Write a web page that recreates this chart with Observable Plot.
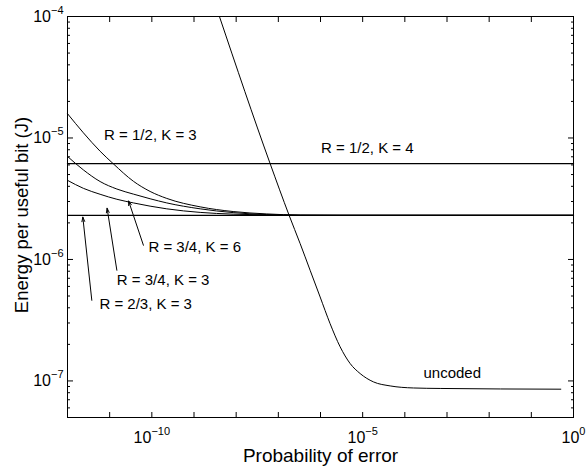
<!DOCTYPE html>
<html><head><meta charset="utf-8">
<script src="https://cdn.jsdelivr.net/npm/d3@7"></script>
<script src="https://cdn.jsdelivr.net/npm/@observablehq/plot@0.6"></script>
<style>body{margin:0;background:#fff}</style>
</head><body><div id="chart"></div>
<script>
// ---- data ----
const floorValue = 2.31e-6;      // R = 2/3, K = 3 (flat)
const k4Value = 6.14e-6;         // R = 1/2, K = 4 (flat)
const flatX = [1e-12, 1];

const r12k3X = [1e-12, 2.38e-12, 5.93e-12, 1.24e-11, 3.66e-11, 9.1e-11, 2.26e-10, 1.40e-9, 8.47e-9, 5.33e-8, 3.29e-7, 2.92e-6, 1];
const r12k3Y = [1.585e-5, 1.103e-5, 7.78e-6, 6.10e-6, 4.40e-6, 3.63e-6, 3.18e-6, 2.71e-6, 2.48e-6, 2.37e-6, 2.32e-6, 2.31e-6, 2.31e-6];

const r34k6X = [1e-12, 2.38e-12, 5.93e-12, 1.48e-11, 3.66e-11, 9.1e-11, 2.26e-10, 1.40e-9, 8.47e-9, 5.33e-8, 3.29e-7, 1];
const r34k6Y = [7.05e-6, 5.46e-6, 4.38e-6, 3.80e-6, 3.45e-6, 3.16e-6, 2.92e-6, 2.61e-6, 2.43e-6, 2.34e-6, 2.31e-6, 2.31e-6];

const r34k3X = [1e-12, 2.38e-12, 5.93e-12, 1.48e-11, 3.66e-11, 2.26e-10, 1.40e-9, 8.47e-9, 5.33e-8, 3.29e-7, 1];
const r34k3Y = [4.48e-6, 3.85e-6, 3.44e-6, 3.13e-6, 2.92e-6, 2.61e-6, 2.44e-6, 2.36e-6, 2.33e-6, 2.31e-6, 2.31e-6];

const uncodedX = [4.01e-9, 6.40e-8, 1.80e-7, 3.29e-7, 5.67e-7, 9.8e-7, 1.69e-6, 2.92e-6, 5.05e-6, 8.71e-6, 1.80e-5, 4.49e-5, 1.60e-4, 6.89e-4, 0.50];
const uncodedY = [1e-4, 6.14e-6, 2.31e-6, 1.35e-6, 8.15e-7, 4.91e-7, 2.96e-7, 1.91e-7, 1.39e-7, 1.15e-7, 9.82e-8, 9.10e-8, 8.75e-8, 8.67e-8, 8.55e-8];

const labelText = ["R = 1/2, K = 3", "R = 1/2, K = 4", "R = 3/4, K = 6", "R = 3/4, K = 3", "R = 2/3, K = 3", "uncoded"];
const labelX = [7.38e-12, 1.03e-6, 8.3e-11, 1.48e-11, 5.71e-12, 2.77e-4];
const labelY = [1.05e-5, 8.17e-6, 1.26e-6, 6.73e-7, 4.28e-7, 1.15e-7];

// arrows: tail (near label) -> tip (at curve)
const arrowX1 = [3.77e-12, 1.48e-11, 6.31e-11];
const arrowY1 = [4.61e-7, 8.15e-7, 1.31e-6];
const arrowX2 = [2.31e-12, 8.69e-12, 2.81e-11];
const arrowY2 = [2.23e-6, 2.64e-6, 3.03e-6];

const xLabelTicks = [1e-10, 1e-5, 1];
const xMinorTicks = d3.range(-12, 1).map(e => Math.pow(10, e));
const yLabelTicks = [1e-4, 1e-5, 1e-6, 1e-7];
const yMinorTicks = [];
for (let e = -8; e <= -5; e++) for (let m = 2; m <= 9; m++) { const v = m * Math.pow(10, e); if (v >= 5e-8 && v <= 1e-4) yMinorTicks.push(+v.toPrecision(3)); }

const xLabel = "Probability of error";
const yLabel = "Energy per useful bit (J)";

// ---- build tables ----
const toPts = (xs, ys) => xs.map((x, i) => ({x, y: ys[i]}));
const curves = [toPts(r12k3X, r12k3Y), toPts(r34k6X, r34k6Y), toPts(r34k3X, r34k3Y)];
const flats = [toPts(flatX, [floorValue, floorValue]), toPts(flatX, [k4Value, k4Value])];
const uncoded = toPts(uncodedX, uncodedY);
const labels = labelText.map((t, i) => ({t, x: labelX[i], y: labelY[i]}));
const arrows = arrowX1.map((x1, i) => ({x1, y1: arrowY1[i], x2: arrowX2[i], y2: arrowY2[i]}));
const sup = d => "10^" + String(Math.round(Math.log10(d))).replace("-", "\u2212");

const chart = Plot.plot({
  width: 586, height: 473,
  marginLeft: 67, marginRight: 13, marginTop: 16, marginBottom: 56,
  style: {fontFamily: "'Liberation Sans', Arial, Helvetica, sans-serif", fontSize: "15px", background: "white", overflow: "visible", color: "black"},
  x: {type: "log", domain: [1e-12, 1], label: null},
  y: {type: "log", domain: [5e-8, 1e-4], label: null},
  marks: [
    ...curves.map(c => Plot.line(c, {x: "x", y: "y", stroke: "black", strokeWidth: 1, curve: "monotone-x"})),
    ...flats.map(c => Plot.line(c, {x: "x", y: "y", stroke: "black", strokeWidth: 1.3})),
    Plot.line(uncoded, {x: "x", y: "y", stroke: "black", strokeWidth: 1, curve: "monotone-x", clip: true}),
    Plot.arrow(arrows, {x1: "x1", y1: "y1", x2: "x2", y2: "y2", stroke: "black", strokeWidth: 1, headLength: 7, headAngle: 35}),
    Plot.text(labels, {x: "x", y: "y", text: "t", textAnchor: "start", lineAnchor: "middle", fontSize: 15, fill: "black"}),
    Plot.frame({stroke: "black", strokeWidth: 1}),
    // inward tick marks on all four sides
    Plot.axisX({anchor: "bottom", ticks: xMinorTicks, tickSize: -5, tickFormat: () => "", label: null}),
    Plot.axisX({anchor: "top", ticks: xMinorTicks, tickSize: -5, tickFormat: () => "", label: null}),
    Plot.axisY({anchor: "left", ticks: yLabelTicks, tickSize: -6, tickFormat: () => "", label: null}),
    Plot.axisY({anchor: "right", ticks: yLabelTicks, tickSize: -6, tickFormat: () => "", label: null}),
    Plot.axisY({anchor: "left", ticks: yMinorTicks, tickSize: -3, tickFormat: () => "", label: null}),
    Plot.axisY({anchor: "right", ticks: yMinorTicks, tickSize: -3, tickFormat: () => "", label: null}),
    // tick labels
    Plot.axisX({anchor: "bottom", ticks: xLabelTicks, tickSize: 0, tickPadding: 14, tickFormat: sup, fontSize: 16, label: null}),
    Plot.axisY({anchor: "left", ticks: yLabelTicks, tickSize: 0, tickPadding: 4, tickFormat: sup, fontSize: 16, label: null}),
    // axis titles
    Plot.text([xLabel], {frameAnchor: "bottom", dy: 38, text: d => d, fontSize: 19, textAnchor: "middle", lineAnchor: "middle", fill: "black"}),
    Plot.text([yLabel], {frameAnchor: "left", dx: -45, dy: -2, text: d => d, fontSize: 18.5, rotate: -90, textAnchor: "middle", lineAnchor: "middle", fill: "black"})
  ]
});

// superscript exponents in tick labels
d3.select(chart).selectAll("text").each(function() {
  const t = this.textContent;
  if (!t || t.indexOf("^") < 0 || this.querySelector("tspan")) return;
  const [base, exp] = t.split("^");
  const el = d3.select(this);
  el.text(null);
  el.append("tspan").text(base);
  el.append("tspan").attr("font-size", 11).attr("dy", -8).text(exp);
});

document.getElementById("chart").appendChild(chart);
</script>
</body></html>
